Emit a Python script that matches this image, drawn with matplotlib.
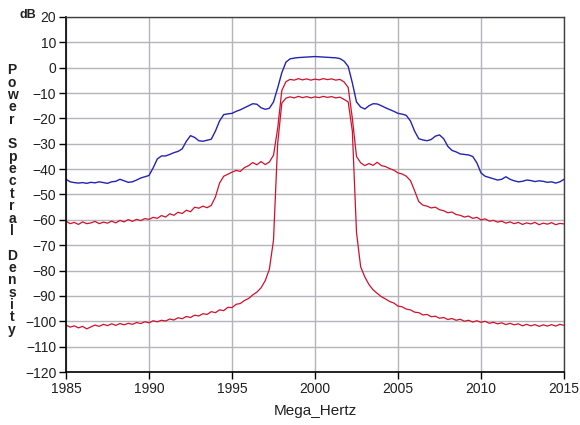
import matplotlib
matplotlib.use("Agg")
import matplotlib.pyplot as plt
import numpy as np

# Frequency grid (MHz), 0.25 MHz steps from 1985 to 2015
freq = [1985 + 0.25 * i for i in range(121)]

blue_psd = [
    -44.0, -45.0, -45.3, -45.5,   # 1985
    -45.3, -45.6, -45.2, -45.4,   # 1986
    -45.0, -45.3, -45.6, -45.0,   # 1987
    -44.8, -44.0, -44.6, -45.2,   # 1988
    -45.0, -44.3, -43.5, -43.0,   # 1989
    -42.5, -39.5, -36.0, -34.8,   # 1990
    -34.8, -34.2, -33.5, -33.0,   # 1991
    -32.0, -29.0, -26.8, -27.5,   # 1992
    -28.8, -29.0, -28.6, -28.2,   # 1993
    -25.0, -21.0, -18.5, -18.2,   # 1994
    -18.0, -17.2, -16.6, -15.8,   # 1995
    -15.0, -14.2, -14.4, -15.8,   # 1996
    -16.4, -16.0, -13.5, -8.0,    # 1997
    -2.0, 2.2, 3.5, 3.8,          # 1998
    4.0, 4.1, 4.2, 4.3,           # 1999
    4.4, 4.3, 4.2, 4.1,           # 2000
    4.0, 3.9, 3.6, 2.6,           # 2001
    0.5, -6.0, -13.5, -15.5,      # 2002
    -16.3, -15.0, -14.2, -14.3,   # 2003
    -15.0, -15.8, -16.5, -17.2,   # 2004
    -18.0, -18.3, -18.8, -21.0,   # 2005
    -25.0, -28.0, -28.5, -28.8,   # 2006
    -28.3, -27.0, -26.5, -28.0,   # 2007
    -31.0, -32.6, -33.2, -34.0,   # 2008
    -34.2, -34.4, -35.0, -37.5,   # 2009
    -41.5, -42.8, -43.3, -43.8,   # 2010
    -44.3, -44.0, -43.0, -44.0,   # 2011
    -44.6, -45.0, -44.8, -44.3,   # 2012
    -44.5, -44.9, -44.6, -44.8,   # 2013
    -45.2, -45.0, -45.5, -45.0,   # 2014
    -44.0,                        # 2015
]

red_mid_psd = [
    -60.5, -61.5, -61.0, -61.8,   # 1985
    -60.8, -61.5, -61.2, -60.6,   # 1986
    -61.5, -60.9, -61.3, -60.5,   # 1987
    -61.2, -60.2, -60.8, -59.9,   # 1988
    -60.6, -59.8, -60.3, -59.5,   # 1989
    -59.8, -59.0, -59.4, -58.3,   # 1990
    -58.9, -57.6, -58.2, -57.0,   # 1991
    -57.5, -56.2, -56.8, -55.0,   # 1992
    -55.4, -54.6, -55.2, -54.3,   # 1993
    -51.0, -45.5, -42.8, -42.0,   # 1994
    -41.2, -40.5, -40.9, -39.4,   # 1995
    -38.6, -37.4, -38.3, -37.0,   # 1996
    -38.2, -37.2, -34.5, -24.0,   # 1997
    -9.0, -5.5, -4.6, -4.9,       # 1998
    -4.3, -4.8, -4.4, -4.9,       # 1999
    -4.5, -4.8, -4.3, -4.7,       # 2000
    -4.4, -4.9, -4.6, -5.6,       # 2001
    -7.8, -20.0, -35.0, -37.5,    # 2002
    -38.6, -37.8, -38.5, -37.3,   # 2003
    -38.6, -39.0, -39.8, -40.4,   # 2004
    -41.5, -41.9, -42.8, -44.5,   # 2005
    -48.5, -52.8, -54.2, -54.6,   # 2006
    -55.3, -55.0, -56.0, -56.4,   # 2007
    -57.2, -56.9, -57.9, -58.2,   # 2008
    -58.9, -58.5, -59.4, -59.0,   # 2009
    -60.0, -59.6, -60.5, -60.2,   # 2010
    -60.9, -60.5, -61.3, -60.8,   # 2011
    -61.5, -61.0, -61.8, -61.2,   # 2012
    -61.6, -61.0, -61.9, -61.3,   # 2013
    -61.7, -61.1, -61.9, -61.4,   # 2014
    -61.6,                        # 2015
]

red_low_psd = [
    -101.5, -102.3, -101.8, -102.6,   # 1985
    -102.0, -103.0, -102.2, -101.5,   # 1986
    -102.0, -101.2, -101.7, -101.0,   # 1987
    -101.6, -100.9, -101.4, -100.8,   # 1988
    -101.2, -100.5, -100.9, -100.2,   # 1989
    -100.6, -99.8, -100.2, -99.6,     # 1990
    -99.9, -99.1, -99.5, -98.6,       # 1991
    -99.0, -98.1, -98.5, -97.6,       # 1992
    -97.9, -97.0, -97.3, -96.2,       # 1993
    -96.6, -95.5, -95.8, -94.5,       # 1994
    -94.6, -93.3, -93.0, -91.8,       # 1995
    -91.0, -89.6, -88.5, -86.8,       # 1996
    -84.0, -79.5, -68.0, -30.0,       # 1997
    -14.0, -12.0, -11.5, -11.9,       # 1998
    -11.3, -11.8, -11.4, -11.9,       # 1999
    -11.5, -11.8, -11.3, -11.7,       # 2000
    -11.4, -11.9, -11.6, -12.5,       # 2001
    -13.5, -25.0, -65.0, -78.5,       # 2002
    -82.5, -85.5, -87.6, -89.0,       # 2003
    -90.3, -91.2, -92.2, -92.8,       # 2004
    -94.0, -94.3, -95.2, -95.5,       # 2005
    -96.4, -96.6, -97.5, -97.3,       # 2006
    -98.2, -98.0, -98.8, -98.5,       # 2007
    -99.3, -98.9, -99.6, -99.2,       # 2008
    -100.0, -99.6, -100.3, -99.8,     # 2009
    -100.4, -100.0, -100.8, -100.4,   # 2010
    -101.0, -100.6, -101.3, -100.8,   # 2011
    -101.4, -101.0, -101.8, -101.2,   # 2012
    -101.8, -101.3, -102.0, -101.4,   # 2013
    -101.9, -101.3, -101.9, -101.2,   # 2014
    -101.6,                           # 2015
]

x_ticks = [1985, 1990, 1995, 2000, 2005, 2010, 2015]
y_ticks = list(range(-120, 21, 10))
ylabel_text = "Power Spectral Density"

plt.rcParams['font.family'] = ['Liberation Sans', 'DejaVu Sans']

fig = plt.figure(figsize=(5.8, 4.25), dpi=100)
ax = fig.add_axes([66/580, 1-372/425, (564-66)/580, (372-17)/425])

ax.plot(freq, blue_psd, color='#2323b4', lw=1.0)
ax.plot(freq, red_mid_psd, color='#d0102c', lw=0.9)
ax.plot(freq, red_low_psd, color='#d0102c', lw=0.9)

ax.set_xlim(1985, 2015)
ax.set_ylim(-120, 20)
ax.set_xticks(x_ticks)
ax.set_yticks(y_ticks)
ax.grid(True, color='#b4b4bc', lw=1.0)
ax.set_axisbelow(True)
ax.tick_params(axis='both', direction='out', length=5, width=1, color='black',
               labelsize=10, labelcolor='#202020', pad=2)
ax.tick_params(top=False, right=False)
for s in ['left', 'bottom']:
    ax.spines[s].set_color('black')
    ax.spines[s].set_linewidth(1.2)
for s in ['top', 'right']:
    ax.spines[s].set_color('#404040')
    ax.spines[s].set_linewidth(1.0)

ax.set_xlabel("Mega_Hertz", fontsize=11, color='#202020', labelpad=6)

stacked = "\n".join(list(ylabel_text))
fig.text(12/580, 1-200/425, stacked, ha='center', va='center', fontsize=10,
         fontweight='bold', linespacing=0.85, color='#202020')
fig.text(28/580, 1-15/425, "dB", ha='center', va='center', fontsize=9,
         fontweight='bold', color='#202020')

fig.savefig("out.png", dpi=100, facecolor='white')
